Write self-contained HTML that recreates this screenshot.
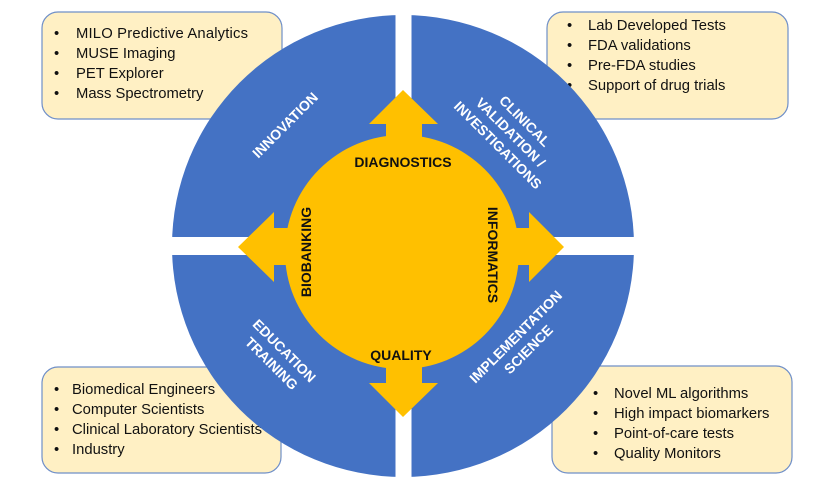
<!DOCTYPE html>
<html><head><meta charset="utf-8"><style>
html,body{margin:0;padding:0;background:#fff;}
svg{display:block;}
</style></head><body>
<svg width="820" height="489" viewBox="0 0 820 489" xmlns="http://www.w3.org/2000/svg" font-family="'Liberation Sans', sans-serif">
<g fill="#FFF0C4" stroke="#6F8FC8" stroke-width="1.2">
<rect x="42" y="12" width="240" height="107" rx="16"/>
<rect x="547" y="12" width="241" height="107" rx="16"/>
<rect x="42" y="367" width="239" height="106" rx="16"/>
<rect x="552" y="366" width="240" height="107" rx="16"/>
</g>
<g font-size="14.8" fill="#111">
<text x="54" y="38">•</text><text x="76" y="38" textLength="172">MILO Predictive Analytics</text>
<text x="54" y="58">•</text><text x="76" y="58">MUSE Imaging</text>
<text x="54" y="78">•</text><text x="76" y="78">PET Explorer</text>
<text x="54" y="98">•</text><text x="76" y="98">Mass Spectrometry</text>
<text x="567" y="30">•</text><text x="588" y="30">Lab Developed Tests</text>
<text x="567" y="50">•</text><text x="588" y="50">FDA validations</text>
<text x="567" y="70">•</text><text x="588" y="70">Pre-FDA studies</text>
<text x="567" y="90">•</text><text x="588" y="90">Support of drug trials</text>
<text x="54" y="394">•</text><text x="72" y="394">Biomedical Engineers</text>
<text x="54" y="414">•</text><text x="72" y="414">Computer Scientists</text>
<text x="54" y="434">•</text><text x="72" y="434">Clinical Laboratory Scientists</text>
<text x="54" y="454">•</text><text x="72" y="454">Industry</text>
<text x="593" y="398">•</text><text x="614" y="398">Novel ML algorithms</text>
<text x="593" y="418">•</text><text x="614" y="418">High impact biomarkers</text>
<text x="593" y="438">•</text><text x="614" y="438">Point-of-care tests</text>
<text x="593" y="458">•</text><text x="614" y="458">Quality Monitors</text>
</g>
<circle cx="403" cy="246" r="231" fill="#4472C4"/>
<rect x="395.5" y="0" width="16" height="489" fill="#fff"/>
<rect x="160" y="237" width="490" height="18" fill="#fff"/>
<g fill="#FFC000">
<circle cx="402" cy="252" r="117"/>
<polygon points="403,90 438,124 422,124 422,160 386,160 386,124 369,124"/>
<polygon points="403,417 438,383 422,383 422,340 386,340 386,383 369,383"/>
<polygon points="238,247 274,212 274,228 320,228 320,265 274,265 274,282"/>
<polygon points="564,247 529,212 529,228 490,228 490,265 529,265 529,282"/>
</g>
<g font-size="14" font-weight="bold" fill="#111" text-anchor="middle">
<text x="403" y="167">DIAGNOSTICS</text>
<text x="401" y="360">QUALITY</text>
<text transform="translate(311,252) rotate(-90)">BIOBANKING</text>
<text transform="translate(488,255) rotate(90)">INFORMATICS</text>
</g>
<g font-size="14" font-weight="bold" fill="#fff" text-anchor="middle">
<text transform="translate(285,125) rotate(-45)" y="5">INNOVATION</text>
<text transform="translate(510,133) rotate(45)"><tspan x="2" y="-14">CLINICAL</tspan><tspan x="0" y="4">VALIDATION /</tspan><tspan x="0" y="22">INVESTIGATIONS</tspan></text>
<text transform="translate(278,357) rotate(45)"><tspan x="0" y="-4">EDUCATION</tspan><tspan x="0" y="14">TRAINING</tspan></text>
<text transform="translate(522,343) rotate(-45)"><tspan x="0" y="-4">IMPLEMENTATION</tspan><tspan x="0" y="14">SCIENCE</tspan></text>
</g>
</svg>
</body></html>
